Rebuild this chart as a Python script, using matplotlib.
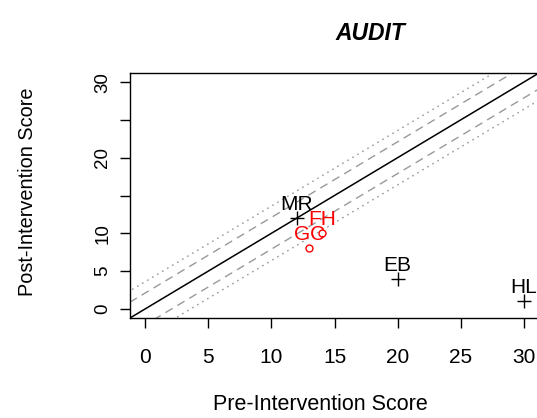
import numpy as np
import matplotlib
matplotlib.use("Agg")
import matplotlib.pyplot as plt

plt.rcParams['font.family'] = ['Liberation Sans', 'DejaVu Sans']

# scores per participant
names = ['MR', 'FH', 'GC', 'EB', 'HL']
pre = [12, 14, 13, 20, 30]
post = [12, 10, 8, 4, 1]
improved = [False, True, True, False, False]

# band half-widths around the line of no change
dash_band = 2.1
dot_band = 3.6

xticks = [0, 5, 10, 15, 20, 25, 30]
yticks = [0, 5, 10, 15, 20, 25, 30]
ytick_labels = ['0', '5', '10', '', '20', '', '30']

fig = plt.figure(figsize=(5.37, 4.18), dpi=100)
ax = fig.add_axes([130 / 537, 100 / 418, 409 / 537, 245 / 418])
ax.set_xlim(-1.2, 31.2)
ax.set_ylim(-1.2, 31.2)

xs = np.array([-5, 40])
ax.plot(xs, xs, color='black', lw=1.1)
for s in (1, -1):
    ax.plot(xs, xs + s * dash_band, color='#999999', lw=1, ls=(0, (6, 4)))
    ax.plot(xs, xs + s * dot_band, color='#999999', lw=1, ls=(0, (1.2, 3)))

for n, x, y, imp in zip(names, pre, post, improved):
    if imp:
        ax.plot(x, y, 'o', mfc='none', mec='red', ms=5, mew=1)
        col = 'red'
    else:
        ax.plot(x, y, '+', color='black', ms=10, mew=1)
        col = 'black'
    ax.annotate(n, (x, y), xytext=(0, 3), textcoords='offset points',
                ha='center', va='bottom', color=col, fontsize=15)

ax.set_xticks(xticks)
ax.set_yticks(yticks)
ax.set_yticklabels(ytick_labels, rotation=90, va='center')
ax.tick_params(direction='out', length=7.5, width=1)
ax.tick_params(axis='x', labelsize=15, pad=14)
ax.tick_params(axis='y', labelsize=13.5, pad=6)
for sp in ax.spines.values():
    sp.set_linewidth(1)

fig.text(320 / 537, 1 - 405 / 418, 'Pre-Intervention Score', ha='center', va='center', fontsize=15.5)
fig.text(28 / 537, 1 - 192 / 418, 'Post-Intervention Score', ha='center', va='center',
         rotation=90, fontsize=14.3)
fig.text(370 / 537, 1 - 33 / 418, 'AUDIT', ha='center', va='center', fontsize=16.5,
         fontweight='bold', fontstyle='italic')

fig.savefig('out.png', dpi=100)
